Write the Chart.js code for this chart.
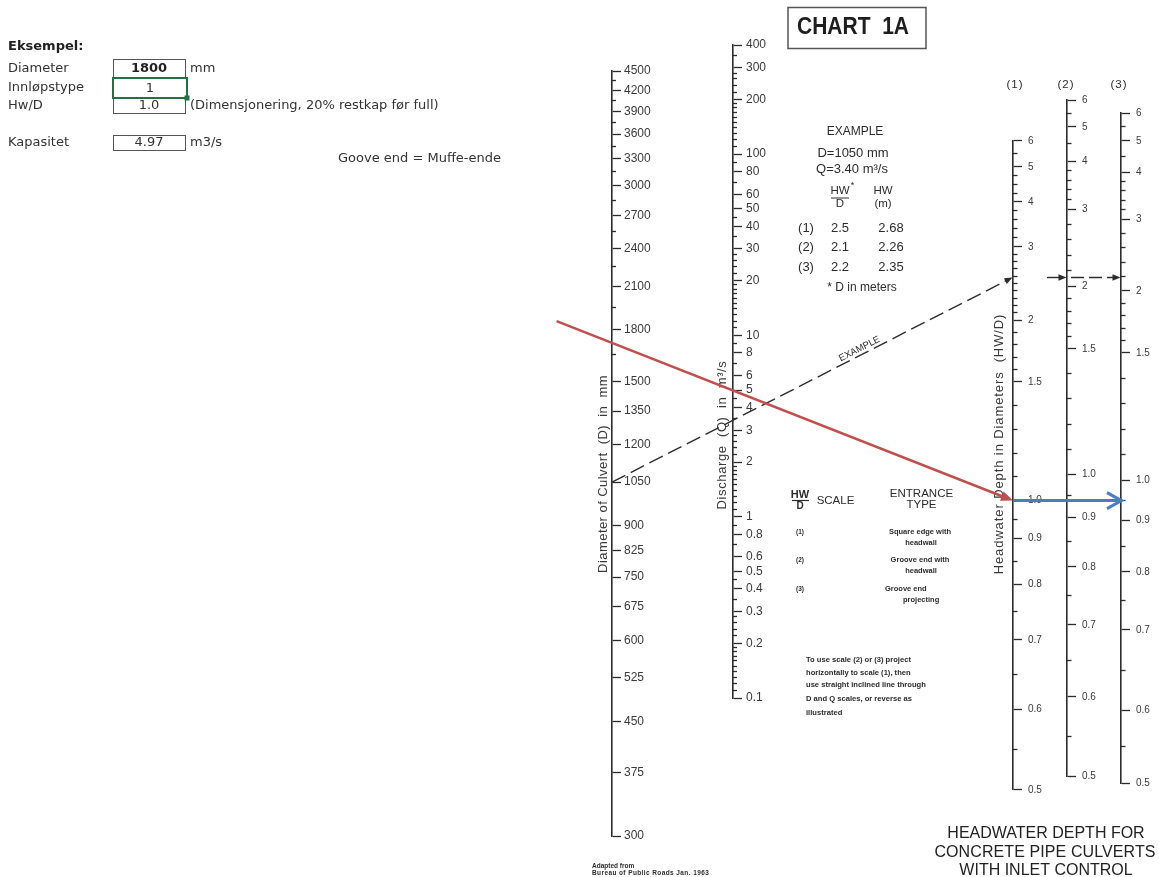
<!DOCTYPE html>
<html>
<head>
<meta charset="utf-8">
<title>Chart 1A – Headwater depth for concrete pipe culverts with inlet control</title>
<script src="https://cdn.jsdelivr.net/npm/chart.js@4.4.1/dist/chart.umd.min.js"></script>
<style>
  html, body { margin: 0; padding: 0; background: #ffffff; }
  #wrap { width: 1159px; height: 877px; position: relative; }
  canvas { display: block; }
</style>
</head>
<body>
<div id="wrap"><canvas id="nomo" width="1159" height="877"></canvas></div>
<script>
// ---------------------------------------------------------------------------
// Graduations of the three kinds of scale on the nomograph
// ---------------------------------------------------------------------------
const diameterTicks = [300, 375, 450, 525, 600, 675, 750, 825, 900, 1050, 1200, 1350,
                       1500, 1800, 2100, 2400, 2700, 3000, 3300, 3600, 3900, 4200, 4500];
const diameterMinorTicks = [1650, 1950, 2250, 2550, 2850, 3150, 3450, 3750, 4050, 4350];

const dischargeTicks = [0.1, 0.2, 0.3, 0.4, 0.5, 0.6, 0.8, 1, 2, 3, 4, 5, 6, 8,
                        10, 20, 30, 40, 50, 60, 80, 100, 200, 300, 400];
const dischargeMinorMantissas = [1.1, 1.2, 1.3, 1.4, 1.5, 1.6, 1.7, 1.8, 1.9,
                                 2.2, 2.4, 2.6, 2.8, 3.5, 4.5, 7, 9];
const dischargeDecades = [0.1, 1, 10, 100];

const hwdTicks = [0.5, 0.6, 0.7, 0.8, 0.9, 1.0, 1.5, 2, 3, 4, 5, 6];
const hwdTickLabels = ['0.5', '0.6', '0.7', '0.8', '0.9', '1.0', '1.5', '2', '3', '4', '5', '6'];
// Discharge intensity Q / D^2.5 (Q in m3/s, D in m) reached at each HW/D graduation
const intensityScale1 = [0.422, 0.575, 0.750, 0.929, 1.108, 1.279, 2.015, 2.555, 3.381, 4.017, 4.594, 5.075];
const intensityScale2 = [0.445, 0.603, 0.794, 0.992, 1.201, 1.416, 2.287, 2.911, 3.910, 4.700, 5.355, 5.937];
const intensityScale3 = [0.433, 0.573, 0.779, 0.973, 1.187, 1.384, 2.252, 2.856, 3.763, 4.506, 5.075, 5.649];
const hwdMinorScale1 = [0.55, 0.65, 0.75, 0.85, 0.95, 1.1, 1.2, 1.3, 1.4, 1.6, 1.7, 1.8, 1.9,
                        2.1, 2.2, 2.3, 2.4, 2.5, 2.6, 2.7, 2.8, 2.9, 3.2, 3.4, 3.6, 3.8,
                        4.25, 4.5, 4.75, 5.5];
const hwdMinorScale23 = [0.55, 0.65, 0.75, 0.85, 0.95, 1.1, 1.2, 1.3, 1.4, 1.6, 1.7, 1.8, 1.9,
                         2.2, 2.4, 2.6, 2.8, 3.2, 3.4, 3.6, 3.8, 4.5, 5.5];

// Worked example printed on the chart
const exampleDiameter = 1050;      // mm
const exampleDischarge = 3.40;     // m3/s
const exampleScales = ['(1)', '(2)', '(3)'];
const exampleHwD = ['2.5', '2.1', '2.2'];
const exampleHw = ['2.68', '2.26', '2.35'];

// Design case from the input sheet
const caseDiameter = 1800;         // mm
const caseInletType = 1;
const caseHwD = 1.0;
const caseCapacity = 4.97;         // m3/s

// Entrance types
const entranceScales = ['(1)', '(2)', '(3)'];
const entranceTypes = [['Square edge with', 'headwall'], ['Groove end with', 'headwall'], ['Groove end', 'projecting']];

// ---------------------------------------------------------------------------
// Layout and styling
// ---------------------------------------------------------------------------
const INK = '#2c2c2c';
const LABEL = '#3a3a3a';
const FONT = "'Liberation Sans', Arial, Helvetica, sans-serif";
const SHEET_FONT = "'DejaVu Sans', Verdana, sans-serif";
const RED = '#c0504d';
const BLUE = '#4a7dc4';

// horizontal station of every scale and the vertical extent of its stem
const placement = {
  D: { x: 612, top: 71, bottom: 836 },
  Q: { x: 733, top: 45, bottom: 698 }
};
// the three HW/D scales share one vertical frame for log(Q/D^2.5)
const hwFrame = { unitY: 564.8, pxPerDecade: 600.8 };
const hwScales = [
  { id: 'H1', x: 1013, intensity: intensityScale1, minor: hwdMinorScale1 },
  { id: 'H2', x: 1067, intensity: intensityScale2, minor: hwdMinorScale23 },
  { id: 'H3', x: 1121, intensity: intensityScale3, minor: hwdMinorScale23 }
];
hwScales.forEach(h => {
  const lo = h.intensity[0], hi = h.intensity[h.intensity.length - 1];
  placement[h.id] = {
    x: h.x,
    top: hwFrame.unitY - hwFrame.pxPerDecade * Math.log10(hi),
    bottom: hwFrame.unitY - hwFrame.pxPerDecade * Math.log10(lo)
  };
});

// HW/D value -> discharge intensity on a given scale (log-interpolated between graduations)
function hwdToIntensity(hwd, intensities) {
  for (let i = 0; i < hwdTicks.length - 1; i++) {
    const a = hwdTicks[i], b = hwdTicks[i + 1];
    if (hwd >= a - 1e-9 && hwd <= b + 1e-9) {
      const t = (hwd - a) / (b - a);
      const la = Math.log10(intensities[i]), lb = Math.log10(intensities[i + 1]);
      return Math.pow(10, la + t * (lb - la));
    }
  }
  return NaN;
}

const dischargeMinorTicks = dischargeDecades
  .flatMap(d => dischargeMinorMantissas.map(m => +(m * d).toPrecision(3)))
  .filter(v => v > 0.1 && v < 400);

function logAxis(cfg) {
  return {
    type: 'logarithmic',
    axis: 'y',
    position: 'right',
    bounds: 'data',
    min: cfg.min,
    max: cfg.max,
    afterFit: s => { s.width = 0; },
    afterBuildTicks: s => { s.ticks = cfg.values.map(v => ({ value: v })); },
    grid: {
      drawOnChartArea: false,
      drawTicks: true,
      tickLength: cfg.tickLength,
      tickWidth: 1.3,
      tickColor: INK
    },
    border: { display: !!cfg.border, color: INK, width: 1.6 },
    ticks: {
      display: !!cfg.labels,
      autoSkip: false,
      padding: cfg.padding || 0,
      color: LABEL,
      font: { family: FONT, size: cfg.fontSize || 12 },
      callback: (v, i) => (cfg.labels ? cfg.labels[i] : '')
    }
  };
}

const scales = {
  x: { type: 'linear', display: false, min: 0, max: 1 },
  y: { type: 'linear', display: false, min: 0, max: 1 },
  D: logAxis({ min: 300, max: 4500, values: diameterTicks, labels: diameterTicks.map(String),
               tickLength: 9, padding: 3, fontSize: 12, border: true }),
  Dm: logAxis({ min: 300, max: 4500, values: diameterMinorTicks, tickLength: 4 }),
  Q: logAxis({ min: 0.1, max: 400, values: dischargeTicks, labels: dischargeTicks.map(String),
               tickLength: 9, padding: 4, fontSize: 12, border: true }),
  Qm: logAxis({ min: 0.1, max: 400, values: dischargeMinorTicks, tickLength: 4 })
};
placement.Dm = placement.D;
placement.Qm = placement.Q;
hwScales.forEach(h => {
  const lo = h.intensity[0], hi = h.intensity[h.intensity.length - 1];
  scales[h.id] = logAxis({ min: lo, max: hi, values: h.intensity, labels: hwdTickLabels,
                           tickLength: 9, padding: 6, fontSize: 10, border: true });
  scales[h.id + 'm'] = logAxis({ min: lo, max: hi,
                                 values: h.minor.map(v => hwdToIntensity(v, h.intensity)),
                                 tickLength: 4.5 });
  placement[h.id + 'm'] = placement[h.id];
});

// puts every scale stem at its own station on the sheet
const placeScales = {
  id: 'placeScales',
  afterLayout(chart) {
    Object.entries(placement).forEach(([id, p]) => {
      const s = chart.scales[id];
      if (!s) return;
      s.left = p.x; s.right = p.x + 60; s.width = 60;
      s.top = p.top; s.bottom = p.bottom; s.height = p.bottom - p.top;
      s.configure();
    });
  }
};

// ---------------------------------------------------------------------------
// Text helpers
// ---------------------------------------------------------------------------
function put(ctx, str, x, y, font, align, color, spacing) {
  ctx.font = font;
  ctx.fillStyle = color || INK;
  ctx.textAlign = align || 'left';
  ctx.textBaseline = 'middle';
  ctx.letterSpacing = spacing || '0px';
  ctx.fillText(str, x, y);
  ctx.letterSpacing = '0px';
}
function putRotated(ctx, str, x, y, font, spacing) {
  ctx.save();
  ctx.translate(x, y);
  ctx.rotate(-Math.PI / 2);
  put(ctx, str, 0, 0, font, 'center', LABEL, spacing);
  ctx.restore();
}
function underline(ctx, x1, x2, y, w) {
  ctx.beginPath(); ctx.moveTo(x1, y); ctx.lineTo(x2, y);
  ctx.lineWidth = w || 1; ctx.strokeStyle = INK; ctx.stroke();
}

const annotations = {
  id: 'annotations',
  afterDraw(chart) {
    const ctx = chart.ctx;
    ctx.save();

    // ---- input sheet ----------------------------------------------------
    const f13 = '13px ' + SHEET_FONT, b13 = 'bold 13px ' + SHEET_FONT;
    put(ctx, 'Eksempel:', 8, 47, b13, 'left', '#222');
    put(ctx, 'Diameter', 8, 68.5, f13, 'left', '#333');
    put(ctx, 'Innløpstype', 8, 88, f13, 'left', '#333');
    put(ctx, 'Hw/D', 8, 106, f13, 'left', '#333');
    put(ctx, 'Kapasitet', 8, 142.5, f13, 'left', '#333');
    ctx.strokeStyle = '#555'; ctx.lineWidth = 1;
    ctx.strokeRect(113.5, 59.5, 72, 19);
    ctx.strokeRect(113.5, 98.5, 72, 15);
    ctx.strokeRect(113.5, 135.5, 72, 15);
    ctx.strokeStyle = '#217346'; ctx.lineWidth = 2;
    ctx.strokeRect(113, 78, 74, 20);
    ctx.fillStyle = '#217346'; ctx.fillRect(184.5, 95.5, 5, 5);
    put(ctx, String(caseDiameter), 149, 69, b13, 'center', '#222');
    put(ctx, String(caseInletType), 150, 88.5, f13, 'center', '#333');
    put(ctx, caseHwD.toFixed(1), 149, 106, f13, 'center', '#333');
    put(ctx, caseCapacity.toFixed(2), 149, 143, f13, 'center', '#333');
    put(ctx, 'mm', 190, 69, f13, 'left', '#333');
    put(ctx, '(Dimensjonering, 20% restkap før full)', 190, 106, f13, 'left', '#333');
    put(ctx, 'm3/s', 190, 143, f13, 'left', '#333');
    put(ctx, 'Goove end = Muffe-ende', 338, 158.5, f13, 'left', '#333');

    // ---- chart heading box ---------------------------------------------
    ctx.strokeStyle = '#555'; ctx.lineWidth = 1.5;
    ctx.strokeRect(788, 7.5, 138, 41);
    ctx.save();
    ctx.translate(853, 27.5); ctx.scale(1, 1.1);
    put(ctx, 'CHART  1A', 0, 0, 'bold 21px ' + FONT, 'center', '#1e1e1e');
    ctx.restore();

    // ---- scale titles ----------------------------------------------------
    putRotated(ctx, 'Diameter of Culvert  (D)  in  mm', 603.5, 474, '13px ' + FONT, '0.45px');
    putRotated(ctx, 'Discharge  (Q)  in  m³/s', 722, 435, '13px ' + FONT, '0.6px');
    putRotated(ctx, 'Headwater Depth in Diameters  (HW/D)', 999.5, 444, '13px ' + FONT, '0.9px');
    put(ctx, '(1)', 1015, 84.5, '11.5px ' + FONT, 'center', INK, '1px');
    put(ctx, '(2)', 1066, 84.5, '11.5px ' + FONT, 'center', INK, '1px');
    put(ctx, '(3)', 1119, 84.5, '11.5px ' + FONT, 'center', INK, '1px');

    // ---- worked example block -------------------------------------------
    const e12 = '12px ' + FONT, e13 = '13px ' + FONT;
    put(ctx, 'EXAMPLE', 855, 132, e12, 'center', INK);
    put(ctx, 'D=' + exampleDiameter + ' mm', 853, 153, e13, 'center', INK);
    put(ctx, 'Q=' + exampleDischarge.toFixed(2) + ' m³/s', 852, 169.5, e13, 'center', INK);
    put(ctx, 'HW', 840, 191, '11.5px ' + FONT, 'center', INK);
    underline(ctx, 831, 849, 198, 1);
    put(ctx, '*', 852.5, 186, '9px ' + FONT, 'center', INK);
    put(ctx, 'D', 840, 203.5, '11.5px ' + FONT, 'center', INK);
    put(ctx, 'HW', 883, 191, '11.5px ' + FONT, 'center', INK);
    put(ctx, '(m)', 883, 203.5, '11.5px ' + FONT, 'center', INK);
    const rowY = [228, 247.5, 267];
    exampleScales.forEach((s, i) => {
      put(ctx, s, 806, rowY[i], e13, 'center', INK);
      put(ctx, exampleHwD[i], 840, rowY[i], e13, 'center', INK);
      put(ctx, exampleHw[i], 891, rowY[i], e13, 'center', INK);
    });
    put(ctx, '* D in meters', 862, 288, e12, 'center', INK);

    // ---- entrance type legend ------------------------------------------
    put(ctx, 'HW', 800, 495, 'bold 11px ' + FONT, 'center', INK);
    underline(ctx, 792, 809, 500.5, 1.2);
    put(ctx, 'D', 800, 506, 'bold 10px ' + FONT, 'center', INK);
    put(ctx, 'SCALE', 835.5, 501, '11.5px ' + FONT, 'center', INK);
    put(ctx, 'ENTRANCE', 921.5, 494, '11.5px ' + FONT, 'center', INK);
    put(ctx, 'TYPE', 921.5, 505, '11.5px ' + FONT, 'center', INK);
    const legendY = [532, 560, 589];
    const t7 = 'bold 7.5px ' + FONT;
    entranceScales.forEach((s, i) => put(ctx, s, 800, legendY[i], 'bold 6.5px ' + FONT, 'center', INK));
    put(ctx, entranceTypes[0][0], 920, 532, t7, 'center', INK);
    put(ctx, entranceTypes[0][1], 921, 542.5, t7, 'center', INK);
    put(ctx, entranceTypes[1][0], 920, 559.5, t7, 'center', INK);
    put(ctx, entranceTypes[1][1], 921, 570.5, t7, 'center', INK);
    put(ctx, entranceTypes[2][0], 885, 588.5, t7, 'left', INK);
    put(ctx, entranceTypes[2][1], 903, 600, t7, 'left', INK);

    const note = ['To use scale (2) or (3) project', 'horizontally to scale (1), then',
                  'use straight inclined line through', 'D and Q scales, or reverse as', 'illustrated'];
    const noteY = [660, 672.5, 685, 698.5, 713];
    note.forEach((l, i) => put(ctx, l, 806, noteY[i], 'bold 7.6px ' + FONT, 'left', INK));

    // ---- footer texts -----------------------------------------------------
    put(ctx, 'Adapted from', 592, 866, 'bold 6.5px ' + FONT, 'left', INK);
    put(ctx, 'Bureau of Public Roads Jan. 1963', 592, 873.5, 'bold 6.5px ' + FONT, 'left', INK, '0.4px');
    const ft = '16px ' + FONT;
    put(ctx, 'HEADWATER DEPTH FOR', 1046, 834, ft, 'center', '#222');
    put(ctx, 'CONCRETE PIPE CULVERTS', 1045, 852.5, ft, 'center', '#222', '0.1px');
    put(ctx, 'WITH INLET CONTROL', 1046, 870.5, ft, 'center', '#222');

    ctx.restore();
  }
};

// ---------------------------------------------------------------------------
// Key lines (worked example and design case) drawn through the scales
// ---------------------------------------------------------------------------
function arrowHead(ctx, from, tip, len, half, color) {
  const a = Math.atan2(tip.y - from.y, tip.x - from.x);
  const bx = tip.x - len * Math.cos(a), by = tip.y - len * Math.sin(a);
  ctx.beginPath();
  ctx.moveTo(tip.x, tip.y);
  ctx.lineTo(bx + half * Math.sin(a), by - half * Math.cos(a));
  ctx.lineTo(bx - half * Math.sin(a), by + half * Math.cos(a));
  ctx.closePath();
  ctx.fillStyle = color; ctx.fill();
}
function segment(ctx, a, b, color, width, dash) {
  ctx.beginPath(); ctx.moveTo(a.x, a.y); ctx.lineTo(b.x, b.y);
  ctx.setLineDash(dash || []); ctx.strokeStyle = color; ctx.lineWidth = width; ctx.stroke();
  ctx.setLineDash([]);
}
function towards(a, b, back) {
  const d = Math.hypot(b.x - a.x, b.y - a.y);
  return { x: b.x - (b.x - a.x) * back / d, y: b.y - (b.y - a.y) * back / d };
}

const keyLines = {
  id: 'keyLines',
  afterDraw(chart) {
    const ctx = chart.ctx, s = chart.scales;
    ctx.save();
    ctx.lineCap = 'butt';

    // worked example: straight line through D and Q, carried on to scale (1)
    const pD = { x: s.D.left, y: s.D.getPixelForValue(exampleDiameter) };
    const pQ = { x: s.Q.left, y: s.Q.getPixelForValue(exampleDischarge) };
    const k = (s.H1.left - pQ.x) / (pQ.x - pD.x);
    const pH = { x: s.H1.left - 0.5, y: pQ.y + (pQ.y - pD.y) * k };
    segment(ctx, pD, towards(pD, pH, 6), INK, 1.4, [15, 6]);
    arrowHead(ctx, pD, pH, 8, 3.2, INK);
    const ang = Math.atan2(pH.y - pD.y, pH.x - pD.x);
    const t = 0.625;
    const cx = pD.x + (pH.x - pD.x) * t + 6 * Math.sin(ang);
    const cy = pD.y + (pH.y - pD.y) * t - 6 * Math.cos(ang);
    ctx.save(); ctx.translate(cx, cy); ctx.rotate(ang);
    put(ctx, 'EXAMPLE', 0, 0, '9.5px ' + FONT, 'center', INK);
    ctx.restore();

    // horizontal projection to scales (2) and (3)
    const a1 = { x: s.H1.left + 34, y: pH.y }, a2 = { x: s.H2.left - 0.5, y: pH.y };
    segment(ctx, a1, towards(a1, a2, 5), INK, 1.4);
    arrowHead(ctx, a1, a2, 8, 3.2, INK);
    const b1 = { x: s.H2.left + 4, y: pH.y }, b2 = { x: s.H3.left - 0.5, y: pH.y };
    segment(ctx, b1, towards(b1, b2, 5), INK, 1.4, [13, 5]);
    arrowHead(ctx, b1, b2, 8, 3.2, INK);

    // design case: through Q = 4.97 m3/s to HW/D = 1.0 on scale (1)
    const qPt = { x: s.Q.left, y: s.Q.getPixelForValue(caseCapacity) };
    const hPt = { x: s.H1.left, y: s.H1.getPixelForValue(hwdToIntensity(caseHwD, intensityScale1)) };
    const lead = 0.63;
    const start = { x: qPt.x - (hPt.x - qPt.x) * lead, y: qPt.y - (hPt.y - qPt.y) * lead };
    segment(ctx, start, towards(start, hPt, 9), RED, 2.6);
    arrowHead(ctx, start, hPt, 12, 5, RED);

    // same HW/D carried across to scale (3)
    const endBlue = { x: s.H3.left, y: hPt.y };
    segment(ctx, { x: hPt.x + 1, y: hPt.y }, { x: endBlue.x - 1, y: hPt.y }, BLUE, 3);
    ctx.beginPath();
    ctx.moveTo(endBlue.x - 14, hPt.y - 8);
    ctx.lineTo(endBlue.x + 0.5, hPt.y);
    ctx.lineTo(endBlue.x - 14, hPt.y + 8);
    ctx.strokeStyle = BLUE; ctx.lineWidth = 3; ctx.lineJoin = 'miter'; ctx.stroke();

    ctx.restore();
  }
};

new Chart(document.getElementById('nomo'), {
  type: 'scatter',
  data: { datasets: [] },
  options: {
    responsive: false,
    animation: false,
    devicePixelRatio: 1,
    events: [],
    layout: { padding: 0 },
    plugins: { legend: { display: false }, tooltip: { enabled: false }, title: { display: false } },
    scales
  },
  plugins: [placeScales, annotations, keyLines]
});
</script>
</body>
</html>
